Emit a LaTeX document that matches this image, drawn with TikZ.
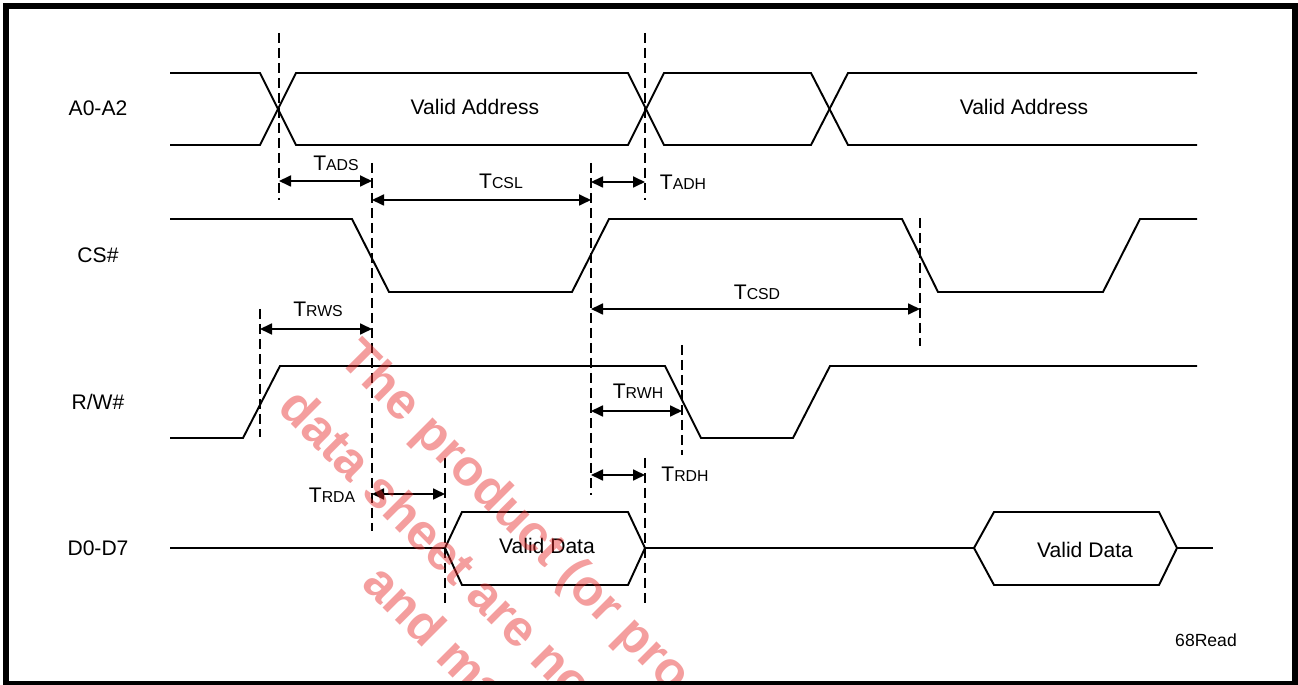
\documentclass[tikz,border=0pt]{standalone}
\usepackage{fontspec}
\setmainfont{Liberation Sans}
\usetikzlibrary{positioning, arrows.meta}
\definecolor{wmred}{RGB}{230,40,40}
\newcommand{\tlab}[1]{T{\fontsize{9}{10}\selectfont #1}}

\begin{document}
\begin{tikzpicture}[
    x=0.02cm, y=-0.02cm,
    sig/.style={line width=1.1pt},
    guide/.style={line width=1.1pt, dash pattern=on 2mm off 1mm},
    dim/.style={{Triangle[length=2.4mm,width=2.2mm]}-{Triangle[length=2.4mm,width=2.2mm]}, line width=1pt},
    lbl/.style={inner sep=0pt, font=\fontsize{12}{14}\selectfont},
    wmark/.style={inner sep=0pt, anchor=base west, rotate=-45, text=wmred, opacity=0.45, font=\fontsize{29}{35}\selectfont\bfseries}
]
\useasboundingbox (0,0) rectangle (1298,685);

% signal names
\node[lbl] (sa) at (98,108) {A0-A2};
\node[lbl] (scs) at (98,255) {CS\#};
\node[lbl] (srw) at (98,402) {R/W\#};
\node[lbl] (sd) at (98,548) {D0-D7};

% A0-A2
\draw[sig] (170,73) -- (260,73) -- (296,145) -- (628,145) -- (664,73) -- (811,73) -- (848,145) -- (1197,145);
\draw[sig] (170,145) -- (260,145) -- (296,73) -- (628,73) -- (664,145) -- (811,145) -- (848,73) -- (1197,73);
\node[lbl] (adr1) at (475,107) {Valid Address};
\node[lbl] (adr2) at (1024,107) {Valid Address};

% CS#
\draw[sig] (170,219) -- (352,219) -- (389,292) -- (572,292) -- (609,219) -- (902,219) -- (938,292) -- (1103,292) -- (1140,219) -- (1197,219);

% R/W#
\draw[sig] (170,438) -- (243,438) -- (280,366) -- (665,366) -- (701,438) -- (793,438) -- (830,366) -- (1197,366);

% D0-D7
\draw[sig] (170,548) -- (445,548);
\draw[sig] (445,548) -- (462,512) -- (628,512) -- (645,548) -- (628,585) -- (462,585) -- cycle;
\draw[sig] (645,548) -- (974,548);
\draw[sig] (974,548) -- (994,512) -- (1159,512) -- (1177,548) -- (1159,585) -- (994,585) -- cycle;
\draw[sig] (1177,548) -- (1213,548);
\node[lbl] (dat1) at (547,546) {Valid Data};
\node[lbl] (dat2) at (1085,550) {Valid Data};

% guides
\draw[guide] (279,33) -- (279,200);
\draw[guide] (645,33) -- (645,200);
\draw[guide] (372,163) -- (372,531);
\draw[guide] (591,163) -- (591,495);
\draw[guide] (920,218) -- (920,346);
\draw[guide] (260,309) -- (260,437);
\draw[guide] (682,345) -- (682,455);
\draw[guide] (445,458) -- (445,603);
\draw[guide] (645,458) -- (645,603);

% timing marks
\coordinate (adsL) at (279,181);  \coordinate (adsR) at (372,181);
\coordinate (cslL) at (372,200);  \coordinate (cslR) at (591,200);
\coordinate (adhL) at (591,182);  \coordinate (adhR) at (645,182);
\coordinate (csdL) at (591,309);  \coordinate (csdR) at (920,309);
\coordinate (rwsL) at (260,329);  \coordinate (rwsR) at (372,329);
\coordinate (rwhL) at (591,411);  \coordinate (rwhR) at (682,411);
\coordinate (rdhL) at (591,475);  \coordinate (rdhR) at (645,475);
\coordinate (rdaL) at (372,494);  \coordinate (rdaR) at (445,494);

\draw[dim] (adsL) -- (adsR);
\draw[dim] (cslL) -- (cslR);
\draw[dim] (adhL) -- (adhR);
\draw[dim] (csdL) -- (csdR);
\draw[dim] (rwsL) -- (rwsR);
\draw[dim] (rwhL) -- (rwhR);
\draw[dim] (rdhL) -- (rdhR);
\draw[dim] (rdaL) -- (rdaR);

\node[lbl] (tads) at (336,163) {\tlab{ADS}};
\node[lbl] (tcsl) at (501,181) {\tlab{CSL}};
\node[lbl] (tadh) at (683,182) {\tlab{ADH}};
\node[lbl] (tcsd) at (757,292) {\tlab{CSD}};
\node[lbl] (trws) at (318,309) {\tlab{RWS}};
\node[lbl] (trwh) at (638,391) {\tlab{RWH}};
\node[lbl] (trdh) at (685,474) {\tlab{RDH}};
\node[lbl] (trda) at (332,495) {\tlab{RDA}};

\node[inner sep=0pt, font=\fontsize{10}{12}\selectfont] (fig) at (1206,640) {68Read};

% watermark
\begin{scope}
\clip (9,9) rectangle (1292,680);
\node[wmark] (wm1) at (337,360) {The product (or pro};
\node[wmark] (wm2) at (276,409) {data sheet are no};
\node[wmark] (wm3) at (360,585) {and ma};
\end{scope}

% frame
\draw[line width=3.4pt] (6,6) rectangle (1295,683.5);
\end{tikzpicture}
\end{document}
